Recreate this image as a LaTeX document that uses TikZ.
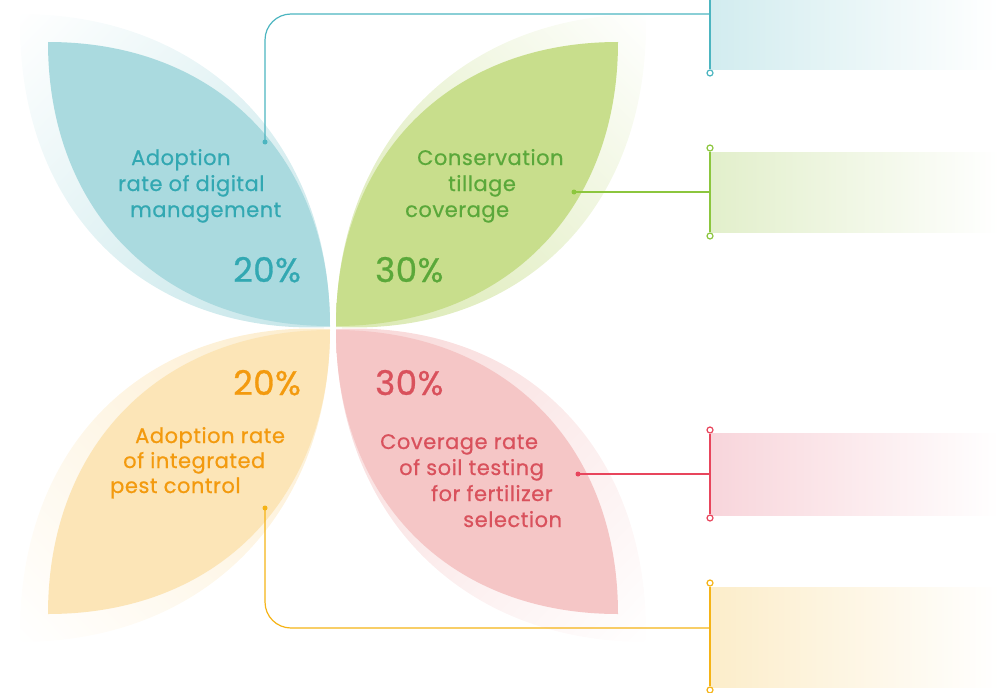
\documentclass[tikz,border=0pt]{standalone}
\usepackage{fontspec}
\setmainfont{Poppins}
\usetikzlibrary{positioning,shadings}

\definecolor{petblue}{HTML}{AADADF}
\definecolor{petgreen}{HTML}{C8DE8C}
\definecolor{petorange}{HTML}{FCE5B7}
\definecolor{petpink}{HTML}{F5C6C6}
\definecolor{txtblue}{HTML}{32A8B2}
\definecolor{txtgreen}{HTML}{5AA83A}
\definecolor{txtorange}{HTML}{F39A0E}
\definecolor{txtpink}{HTML}{D9515C}
\definecolor{lnblue}{HTML}{4CB5C0}
\definecolor{lngreen}{HTML}{8CC63E}
\definecolor{lnpink}{HTML}{E8455C}
\definecolor{lnorange}{HTML}{F5B316}
\definecolor{boxblue}{HTML}{D2ECEF}
\definecolor{boxgreen}{HTML}{E2EFCB}
\definecolor{boxpink}{HTML}{F8D5DB}
\definecolor{boxorange}{HTML}{FCEDCA}

\begin{document}
\begin{tikzpicture}[x=1pt,y=-1pt,
  caption/.style={anchor=base west,inner sep=0pt,
    font=\fontsize{21}{26}\selectfont\addfontfeatures{FakeBold=0.6,LetterSpace=2.5}},
  percent/.style={anchor=base west,inner sep=0pt,
    font=\fontsize{34}{36}\selectfont\addfontfeatures{FakeBold=0.8,LetterSpace=1.5}},
  dot/.style={circle,fill=#1,inner sep=0pt,minimum size=5pt},
  ring/.style={circle,draw=#1,fill=white,line width=1.2pt,inner sep=0pt,minimum size=6pt},
  link/.style={draw=#1,line width=1.2pt,rounded corners=26pt},
  bar/.style={draw=#1,line width=2pt}]
  \useasboundingbox (0,0) rectangle (999,693);
  \clip (0,0) rectangle (999,693);

  % halos
  \shade[upper left=white,lower right=petblue!70,upper right=petblue!35,lower left=petblue!35]
    (330,327) .. controls (330,143) and (206,14) .. (20,14)
    .. controls (16,215) and (150,336) .. (330,327) -- cycle;
  \shade[upper right=white,lower left=petgreen!70,upper left=petgreen!35,lower right=petgreen!35]
    (336,327) .. controls (336,143) and (460,14) .. (646,14)
    .. controls (650,215) and (516,336) .. (336,327) -- cycle;
  \shade[lower left=white,upper right=petorange!70,upper left=petorange!35,lower right=petorange!35]
    (330,329) .. controls (330,513) and (206,642) .. (20,642)
    .. controls (16,441) and (150,320) .. (330,329) -- cycle;
  \shade[lower right=white,upper left=petpink!70,upper right=petpink!35,lower left=petpink!35]
    (336,329) .. controls (336,513) and (460,642) .. (646,642)
    .. controls (650,441) and (516,320) .. (336,329) -- cycle;

  % petals
  \fill[petblue] (330,326) .. controls (330,160) and (220,42) .. (48,42)
    .. controls (48,214) and (164,326) .. (330,326) -- cycle;
  \fill[petgreen] (336,326) .. controls (336,160) and (446,42) .. (618,42)
    .. controls (618,214) and (502,326) .. (336,326) -- cycle;
  \fill[petorange] (330,330) .. controls (330,496) and (220,614) .. (48,614)
    .. controls (48,442) and (164,330) .. (330,330) -- cycle;
  \fill[petpink] (336,330) .. controls (336,496) and (446,614) .. (618,614)
    .. controls (618,442) and (502,330) .. (336,330) -- cycle;

  % boxes
  \shade[left color=boxblue,right color=white] (711,-42) rectangle (999,70);
  \shade[left color=boxgreen,right color=white] (711,152) rectangle (999,232);
  \shade[left color=boxpink,right color=white] (711,433) rectangle (999,515);
  \shade[left color=boxorange,right color=white] (711,587) rectangle (999,687);

  % bars
  \node[ring=lnblue] (topblue) at (710,-45) {};
  \node[ring=lnblue] (botblue) at (710,73) {};
  \node[ring=lngreen] (topgreen) at (710,148) {};
  \node[ring=lngreen] (botgreen) at (710,236) {};
  \node[ring=lnpink] (toppink) at (710,430) {};
  \node[ring=lnpink] (botpink) at (710,518) {};
  \node[ring=lnorange] (toporange) at (710,583) {};
  \node[ring=lnorange] (botorange) at (710,690) {};
  \draw[bar=lnblue] (topblue) -- (botblue);
  \draw[bar=lngreen] (topgreen) -- (botgreen);
  \draw[bar=lnpink] (toppink) -- (botpink);
  \draw[bar=lnorange] (toporange) -- (botorange);

  % connectors
  \coordinate (joinblue) at (710,14);
  \coordinate (joingreen) at (710,192);
  \coordinate (joinpink) at (710,474);
  \coordinate (joinorange) at (710,628);
  \node[dot=lnblue] (dotblue) at (265,142) {};
  \node[dot=lngreen] (dotgreen) at (574,192) {};
  \node[dot=lnpink] (dotpink) at (578,474) {};
  \node[dot=lnorange] (dotorange) at (265,508) {};
  \draw[link=lnblue] (dotblue.center) |- (joinblue);
  \draw[link=lngreen] (dotgreen.center) -- (joingreen);
  \draw[link=lnpink] (dotpink.center) -- (joinpink);
  \draw[link=lnorange] (dotorange.center) |- (joinorange);

  % texts
  \node[caption,text=txtblue] (blue1) at (131,165) {Adoption};
  \node[caption,text=txtblue] (blue2) at (118,191) {rate of digital};
  \node[caption,text=txtblue] (blue3) at (130,217) {management};
  \node[percent,text=txtblue] (pctblue) at (233,282) {20\%};
  \node[caption,text=txtgreen] (green1) at (417,165) {Conservation};
  \node[caption,text=txtgreen] (green2) at (448,191) {tillage};
  \node[caption,text=txtgreen] (green3) at (405,217) {coverage};
  \node[percent,text=txtgreen] (pctgreen) at (375,282) {30\%};
  \node[percent,text=txtorange] (pctorange) at (233,395) {20\%};
  \node[caption,text=txtorange] (orange1) at (135,443) {Adoption rate};
  \node[caption,text=txtorange] (orange2) at (123,468) {of integrated};
  \node[caption,text=txtorange] (orange3) at (110,493) {pest control};
  \node[percent,text=txtpink] (pctpink) at (375,395) {30\%};
  \node[caption,text=txtpink] (pink1) at (380,449) {Coverage rate};
  \node[caption,text=txtpink] (pink2) at (399,475) {of soil testing};
  \node[caption,text=txtpink] (pink3) at (431,501) {for fertilizer};
  \node[caption,text=txtpink] (pink4) at (463,527) {selection};
\end{tikzpicture}
\end{document}
